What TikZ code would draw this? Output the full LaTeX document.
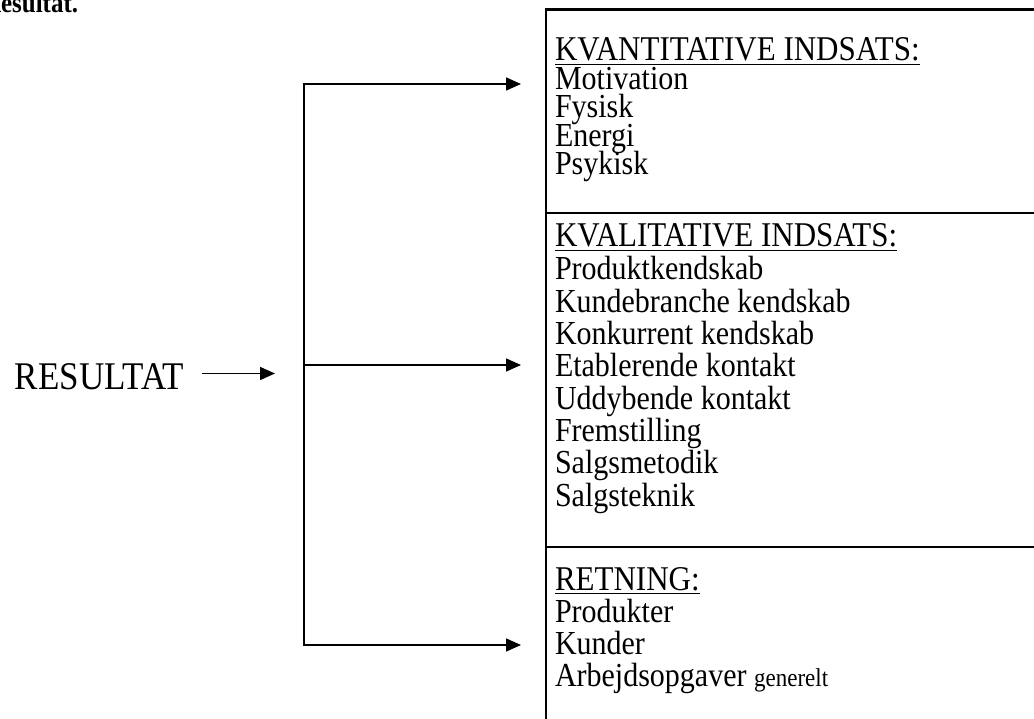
\documentclass[tikz,border=0pt]{standalone}
\usepackage{fontspec}
\setmainfont{Liberation Serif}
\usetikzlibrary{arrows.meta}
\newcommand\tl[1]{\scalebox{1}[1.12]{#1}}
\begin{document}
\begin{tikzpicture}[x=1pt,y=-1pt,
  boxline/.style={line width=2.2pt},
  conn/.style={line width=1.6pt},
  arr/.style={conn,-{Triangle[length=15pt,width=13pt]}},
  txt/.style={anchor=base west,inner sep=0pt,outer sep=0pt,font=\fontsize{30}{30}\selectfont},
  head/.style={txt,font=\fontsize{31}{31}\selectfont},
  uline/.style={line width=1.8pt},
  ]
\useasboundingbox (0,0) rectangle (1034,719);
\clip (0,0) rectangle (1034,719);

% title (cut off at top)
\node[txt,font=\fontsize{25}{25}\selectfont\bfseries] (title) at (-17,12.5) {\tl{Resultat.}};

% box
\draw[boxline] (546,725) -- (546,9.5) -- (1040,9.5);
\draw[boxline] (546,213) -- (1040,213);
\draw[boxline] (546,547) -- (1040,547);

% section 1
\node[head] (h1) at (555,61) {\tl{KVANTITATIVE INDSATS:}};
\draw[uline] ([yshift=-3.5pt]h1.base west) -- ([yshift=-3.5pt]h1.base east);
\node[txt] (a1) at (555,90) {\tl{Motivation}};
\node[txt] (a2) at (555,118) {\tl{Fysisk}};
\node[txt] (a3) at (555,147) {\tl{Energi}};
\node[txt] (a4) at (555,175) {\tl{Psykisk}};

% section 2
\node[head] (h2) at (555,247) {\tl{KVALITATIVE INDSATS:}};
\draw[uline] ([yshift=-3.5pt]h2.base west) -- ([yshift=-3.5pt]h2.base east);
\node[txt] (b1) at (555,280) {\tl{Produktkendskab}};
\node[txt] (b2) at (555,312.3) {\tl{Kundebranche kendskab}};
\node[txt] (b3) at (555,344.6) {\tl{Konkurrent kendskab}};
\node[txt] (b4) at (555,376.9) {\tl{Etablerende kontakt}};
\node[txt] (b5) at (555,409.2) {\tl{Uddybende kontakt}};
\node[txt] (b6) at (555,441.5) {\tl{Fremstilling}};
\node[txt] (b7) at (555,473.8) {\tl{Salgsmetodik}};
\node[txt] (b8) at (555,506.1) {\tl{Salgsteknik}};

% section 3
\node[head] (h3) at (555,590) {\tl{RETNING:}};
\draw[uline] ([yshift=-3.5pt]h3.base west) -- ([yshift=-3.5pt]h3.base east);
\node[txt] (c1) at (555,622) {\tl{Produkter}};
\node[txt] (c2) at (555,654) {\tl{Kunder}};
\node[txt] (c3) at (555,686) {\tl{Arbejdsopgaver {\fontsize{23}{23}\selectfont generelt}}};

% RESULTAT
\node[txt,font=\fontsize{35}{35}\selectfont] (res) at (15,389) {\tl{RESULTAT}};
\coordinate (ra) at (202,373.5);
\coordinate (rb) at (275,373.5);
\draw[arr] (ra) -- (rb);

% bracket
\coordinate (bt) at (304,84);
\coordinate (bm) at (304,365);
\coordinate (bb) at (304,645);
\coordinate (tt) at (521,84);
\coordinate (tm) at (521,365);
\coordinate (tb) at (521,645);
\draw[arr] (bb) -- (bt) -- (tt);
\draw[arr] (bt) -- (bb) -- (tb);
\draw[arr] (bm) -- (tm);
\end{tikzpicture}
\end{document}
